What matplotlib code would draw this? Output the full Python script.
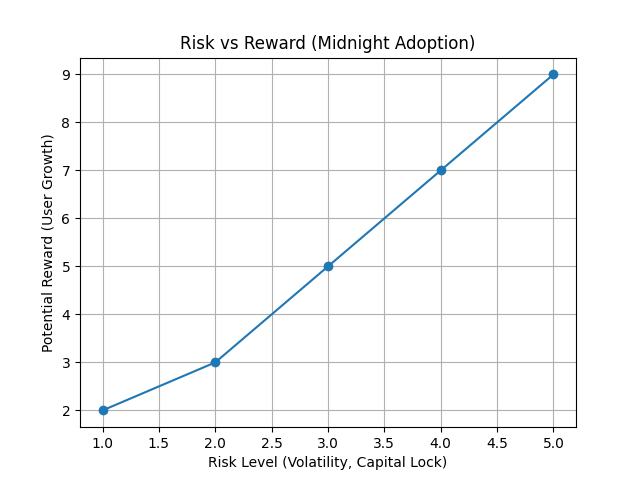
import matplotlib
matplotlib.use("Agg")
import matplotlib.pyplot as plt

risk = [1, 2, 3, 4, 5]
reward = [2, 3, 5, 7, 9]

fig, ax = plt.subplots(figsize=(6.4, 4.8), dpi=100)
ax.plot(risk, reward, marker='o')
ax.set_title("Risk vs Reward (Midnight Adoption)")
ax.set_xlabel("Risk Level (Volatility, Capital Lock)")
ax.set_ylabel("Potential Reward (User Growth)")
ax.grid(True)
fig.savefig("out.png")
